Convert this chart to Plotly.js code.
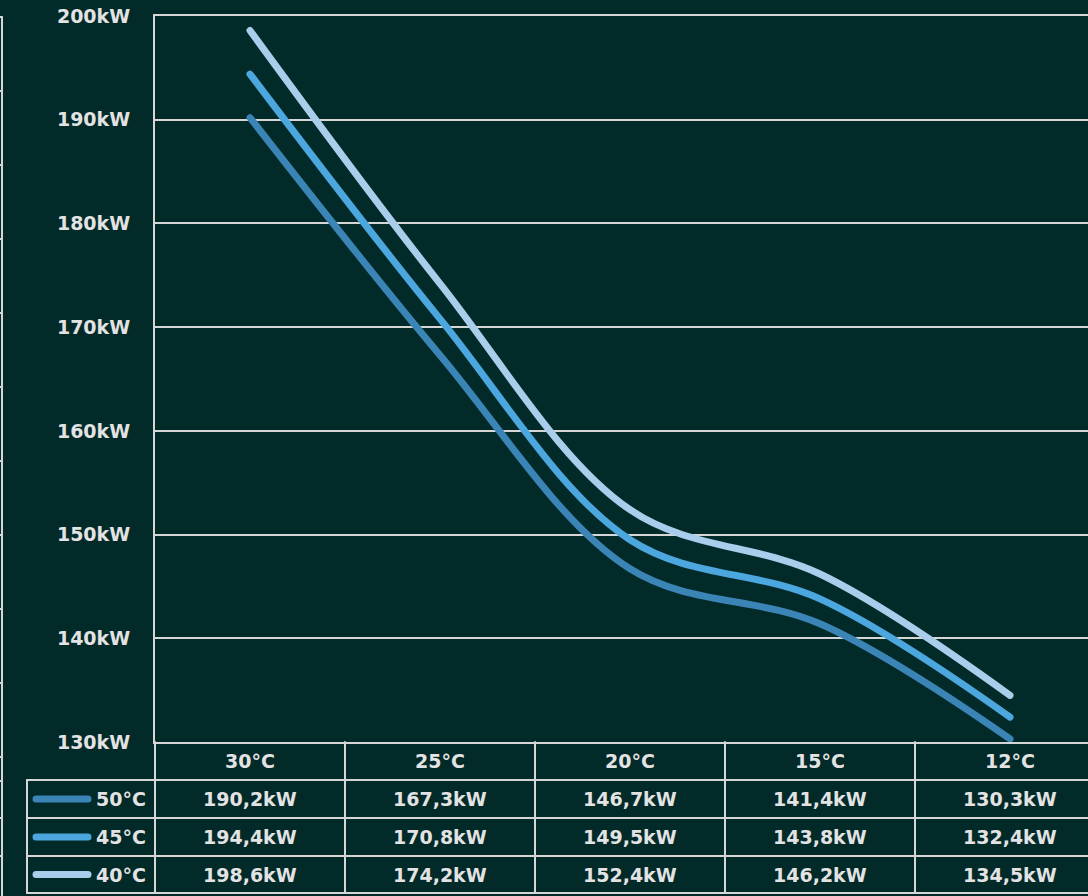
<!DOCTYPE html>
<html>
<head>
<meta charset="utf-8">
<script src="https://cdn.plot.ly/plotly-3.0.1.min.js"></script>
<style>
  html, body { margin: 0; padding: 0; background: #022a29; overflow: hidden; }
  #chart { width: 1088px; height: 896px; }
  .js-line { stroke-linecap: round; }
  .shapelayer path { stroke-linecap: round; }
</style>
</head>
<body>
<div id="chart"></div>
<script>
// ---- data ----
const categories = ['30°C', '25°C', '20°C', '15°C', '12°C'];
const seriesNames = ['50°C', '45°C', '40°C'];
const values50 = [190.2, 167.3, 146.7, 141.4, 130.3];
const values45 = [194.4, 170.8, 149.5, 143.8, 132.4];
const values40 = [198.6, 174.2, 152.4, 146.2, 134.5];
const yTicks = [130, 140, 150, 160, 170, 180, 190, 200];
const yTickLabels = yTicks.map(v => v + 'kW');
const seriesColors = ['#3b84b6', '#4ba7de', '#a9cdeb'];

const allSeries = [values50, values45, values40];

// ---- geometry helpers (pixel -> paper) ----
const W = 1088, H = 896;
const mL = 155, mR = 0, mT = 16, mB = 154;
const plotW = W - mL - mR, plotH = H - mT - mB;
const px = v => (v - mL) / plotW;
const py = v => (H - mB - v) / plotH;
const colW = 190;

const bg = '#022a29';
const lineCol = '#d6d6d6';
const textCol = '#e3e3e3';
const fontFam = 'DejaVu Sans, Liberation Sans, sans-serif';
const fontSize = 19;

const xs = categories.map((c, i) => i);

const traces = allSeries.map((vals, k) => ({
  type: 'scatter',
  mode: 'lines',
  x: xs,
  y: vals,
  name: seriesNames[k],
  line: { color: seriesColors[k], width: 7, shape: 'spline', smoothing: 1 },
  hoverinfo: 'skip'
}));

// ---- table ----
const rowLines = [780, 818, 856, 893];
const rowCenters = [799, 837, 874.5];
const shapes = [];
const annotations = [];
const gridLine = { color: lineCol, width: 2 };

rowLines.forEach(y => {
  shapes.push({ type: 'line', xref: 'paper', yref: 'paper', x0: px(27), x1: 1.02, y0: py(y), y1: py(y), line: gridLine });
});
// left border of legend column
shapes.push({ type: 'line', xref: 'paper', yref: 'paper', x0: px(27), x1: px(27), y0: py(780), y1: py(893), line: gridLine });
// axis column border continues down
shapes.push({ type: 'line', xref: 'paper', yref: 'paper', x0: 0, x1: 0, y0: py(742), y1: py(893), line: gridLine });
// column separators
for (let i = 0; i < categories.length; i++) {
  shapes.push({ type: 'line', xref: 'x', yref: 'paper', x0: i + 0.5, x1: i + 0.5, y0: py(742), y1: py(893), line: gridLine });
}
// legend keys + labels + values
seriesNames.forEach((name, k) => {
  const yc = py(rowCenters[k]);
  shapes.push({ type: 'line', xref: 'paper', yref: 'paper', x0: px(36), x1: px(88), y0: yc, y1: yc,
    line: { color: seriesColors[k], width: 7 } });
  annotations.push({ xref: 'paper', yref: 'paper', x: px(148), y: yc, xanchor: 'right', yanchor: 'middle',
    text: name, showarrow: false, font: { family: fontFam, size: fontSize, color: textCol, weight: 700 } });
  allSeries[k].forEach((v, i) => {
    annotations.push({ xref: 'x', yref: 'paper', x: i, y: yc, xanchor: 'center', yanchor: 'middle',
      text: v.toFixed(1).replace('.', ',') + 'kW', showarrow: false,
      font: { family: fontFam, size: fontSize, color: textCol, weight: 700 } });
  });
});

// left edge decoration (adjacent chart border)
shapes.push({ type: 'line', xref: 'paper', yref: 'paper', x0: px(2), x1: px(2), y0: py(17), y1: py(900), line: gridLine });
const edgeTicks = [];
for (let t = 17; t <= 760; t += 74) edgeTicks.push(t);
edgeTicks.push(781, 818, 856);
edgeTicks.forEach(t => {
  shapes.push({ type: 'line', xref: 'paper', yref: 'paper', x0: px(-2), x1: px(2), y0: py(t), y1: py(t), line: gridLine });
});

const layout = {
  width: W, height: H,
  margin: { l: mL, r: mR, t: mT, b: mB },
  paper_bgcolor: bg,
  plot_bgcolor: bg,
  showlegend: false,
  font: { family: fontFam, size: fontSize, color: textCol, weight: 700 },
  xaxis: {
    range: [-0.5, -0.5 + plotW / colW],
    tickvals: xs,
    ticktext: categories,
    showgrid: false, zeroline: false,
    showline: true, mirror: true, linecolor: lineCol, linewidth: 2,
    ticks: 'outside', ticklen: 1, tickcolor: 'rgba(0,0,0,0)',
    tickfont: { family: fontFam, size: fontSize, color: textCol, weight: 700 },
    fixedrange: true
  },
  yaxis: {
    range: [130, 200],
    tickvals: yTicks,
    ticktext: yTickLabels,
    showgrid: true, gridcolor: lineCol, gridwidth: 2,
    zeroline: false,
    showline: true, linecolor: lineCol, linewidth: 2,
    ticks: 'outside', ticklen: 19, tickcolor: 'rgba(0,0,0,0)',
    tickfont: { family: fontFam, size: fontSize, color: textCol, weight: 700 },
    fixedrange: true
  },
  shapes: shapes,
  annotations: annotations
};

Plotly.newPlot('chart', traces, layout, { displayModeBar: false, staticPlot: true });
</script>
</body>
</html>
